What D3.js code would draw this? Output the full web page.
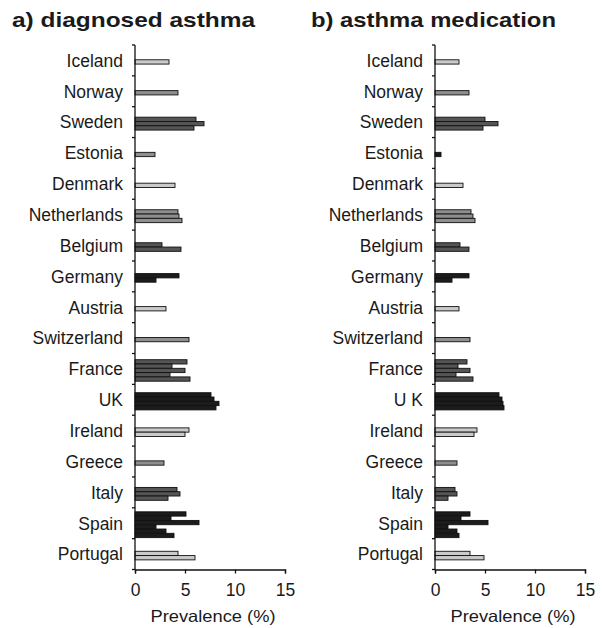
<!DOCTYPE html>
<html><head><meta charset="utf-8">
<script src="https://cdn.jsdelivr.net/npm/d3@7"></script>
<style>body{margin:0;background:#fff}svg{display:block}text{font-family:"Liberation Sans",Arial,sans-serif;fill:#1a1a1a}</style>
</head><body><svg id="c" width="603" height="628"></svg>
<script>
const countriesA = ["Iceland","Norway","Sweden","Estonia","Denmark","Netherlands","Belgium","Germany","Austria","Switzerland","France","UK","Ireland","Greece","Italy","Spain","Portugal"];
const countriesB = ["Iceland","Norway","Sweden","Estonia","Denmark","Netherlands","Belgium","Germany","Austria","Switzerland","France","U K","Ireland","Greece","Italy","Spain","Portugal"];
// shade group per country: 0 light, 1 medium, 2 dark, 3 black
const shadesA = [0,1,2,1,0,1,2,3,0,1,2,3,0,1,2,3,0];
const shadesB = [0,1,2,3,0,1,2,3,0,1,2,3,0,1,2,3,0];
const valuesA = [
  [3.4],[4.3],[6.1,6.9,5.9],[2.0],[4.0],[4.3,4.4,4.7],[2.7,4.6],[4.4,2.1],[3.1],[5.4],
  [5.2,3.7,5.0,3.5,5.5],[7.6,7.9,8.4,8.1],[5.4,5.0],[2.9],[4.2,4.5,3.3],[5.1,3.6,6.4,2.1,3.1,3.9],[4.3,6.0]
];
const valuesB = [
  [2.4],[3.4],[5.0,6.3,4.8],[0.6],[2.8],[3.6,3.8,4.0],[2.5,3.4],[3.4,1.7],[2.4],[3.5],
  [3.2,2.3,3.5,2.1,3.8],[6.4,6.7,6.8,6.9],[4.2,3.9],[2.2],[2.0,2.2,1.3],[3.5,2.6,5.3,1.3,2.2,2.4],[3.5,4.9]
];
const xTicks = [0,5,10,15];
const titles = ["a)  diagnosed asthma","b) asthma medication"];
const xLabel = "Prevalence (%)";
const palette = ["#cacaca","#8e8e8e","#555555","#1c1c1c"];

const svg = d3.select("#c");
function panel(ox, titleX, titleW, title, cats, shades, vals){
  const g = svg.append("g");
  const x = d3.scaleLinear().domain([0,15]).range([ox, ox+150]);
  const y = d3.scaleBand().domain(cats).range([45, 569.5]);
  g.append("text").attr("x", titleX).attr("y", 27).attr("font-size", 21).attr("font-weight","bold")
    .attr("textLength", titleW).attr("lengthAdjust","spacingAndGlyphs").text(title);
  const barH = 4.3;
  cats.forEach((c,i)=>{
    const v = vals[i], n = v.length;
    const cy = y(c) + y.bandwidth()/2 + 1.5;
    const top = cy - n*barH/2;
    g.selectAll(null).data(v).enter().append("rect")
      .attr("x", x(0)).attr("y",(d,j)=>top + j*barH)
      .attr("width", d=>x(d)-x(0)).attr("height", barH)
      .attr("fill", palette[shades[i]]).attr("stroke","#111").attr("stroke-width",0.9);
    g.append("text").attr("x", ox-12).attr("y", y(c)+y.bandwidth()/2).attr("dy","0.36em")
      .attr("text-anchor","end").attr("font-size",17.5).text(c);
  });
  g.append("line").attr("x1",x(0)).attr("x2",x(0)).attr("y1",45).attr("y2",569.5).attr("stroke","#111").attr("stroke-width",1.3);
  const bounds = cats.map(c=>y(c)).concat([569.5]);
  g.selectAll(null).data(bounds).enter().append("line")
    .attr("x1",x(0)-3).attr("x2",x(0)).attr("y1",d=>d).attr("y2",d=>d).attr("stroke","#111").attr("stroke-width",1.3);
  const ax = g.append("g").attr("transform","translate(0,569.5)")
    .call(d3.axisBottom(x).tickValues(xTicks).tickSize(4).tickPadding(10));
  ax.select(".domain").attr("stroke","#111").attr("stroke-width",1.3);
  ax.selectAll(".tick line").attr("stroke","#111").attr("stroke-width",1.3);
  ax.selectAll(".tick text").attr("font-size",17.5).attr("font-family","Liberation Sans, Arial, sans-serif").attr("fill","#1a1a1a");
  g.append("text").attr("x", x(7.5)+3).attr("y", 622).attr("text-anchor","middle").attr("font-size",16.5)
    .attr("textLength",125).attr("lengthAdjust","spacingAndGlyphs").text(xLabel);
}
panel(135, 12, 243, titles[0], countriesA, shadesA, valuesA);
panel(435, 311, 245, titles[1], countriesB, shadesB, valuesB);
</script></body></html>
